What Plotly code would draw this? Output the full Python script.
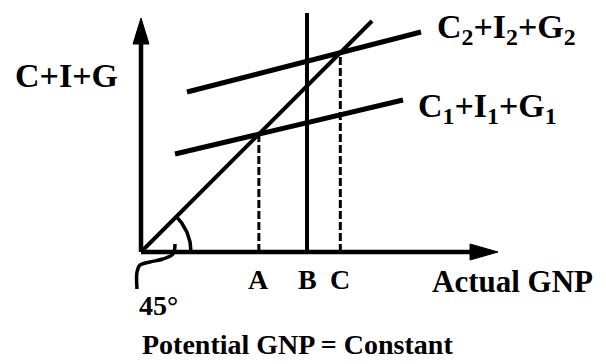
import numpy as np
import plotly.graph_objects as go

# ---- data (diagram units, origin at the axes corner) ----
axis_x_end = 357          # length of horizontal (Actual GNP) axis
axis_y_end = 234          # length of vertical (C+I+G) axis
line45_x = [0, 231]       # 45-degree line x-extent
ae1_x = [34, 262]         # C1+I1+G1 x-extent
ae1_y = [98, 152]
ae2_x = [46, 280]         # C2+I2+G2 x-extent
ae2_y = [160, 220]
potential_x = 166         # B: potential GNP (vertical line)
potential_top = 239
point_labels = ["A", "B", "C"]

FONT = "Liberation Serif"
BLACK = "#000000"

def intersect45(xs, ys):
    m = (ys[1] - ys[0]) / (xs[1] - xs[0])
    b = ys[0] - m * xs[0]
    return b / (1 - m)

xA = intersect45(ae1_x, ae1_y)
xC = intersect45(ae2_x, ae2_y)
label_x = [xA, potential_x, xC]

fig = go.Figure()

def line(xs, ys, width=4.5, dash=None):
    fig.add_trace(go.Scatter(x=xs, y=ys, mode="lines",
                             line=dict(color=BLACK, width=width, dash=dash),
                             hoverinfo="skip", showlegend=False))

# axes
line([0, 0], [0, axis_y_end - 20], width=4.5)
line([0, axis_x_end - 22], [0, 0], width=4.5)
# 45 degree line
line(line45_x, line45_x, width=4)
# aggregate expenditure lines
line(ae1_x, ae1_y, width=5)
line(ae2_x, ae2_y, width=5)
# potential GNP vertical
line([potential_x, potential_x], [0, potential_top], width=4)
# dashed drop lines
line([xA, xA], [0, xA], width=3, dash="8px,3px")
line([xC, xC], [0, xC], width=3, dash="8px,3px")

# arrowheads
fig.add_trace(go.Scatter(x=[-8, 0, 8, -8], y=[axis_y_end - 26, axis_y_end, axis_y_end - 26, axis_y_end - 26],
                         mode="lines", fill="toself", fillcolor=BLACK,
                         line=dict(color=BLACK, width=1), hoverinfo="skip", showlegend=False))
fig.add_trace(go.Scatter(x=[axis_x_end - 28, axis_x_end, axis_x_end - 28, axis_x_end - 28], y=[8, 0, -8, 8],
                         mode="lines", fill="toself", fillcolor=BLACK,
                         line=dict(color=BLACK, width=1), hoverinfo="skip", showlegend=False))

# 45 degree arc
t = np.linspace(0, np.pi / 4, 30)
line(list(50 * np.cos(t)), list(50 * np.sin(t)), width=3.5)
# squiggle pointer
sq_x = [34, 32, 22, 9, -1, -4, -4]
sq_y = [8, -2, -7, -10, -13, -20, -37]
fig.add_trace(go.Scatter(x=sq_x, y=sq_y, mode="lines",
                         line=dict(color=BLACK, width=3.5, shape="spline"),
                         hoverinfo="skip", showlegend=False))

def text(x, y, s, size, xanchor="center", yanchor="middle", bold=True):
    fig.add_annotation(x=x, y=y, text=(f"<b>{s}</b>" if bold else s), showarrow=False,
                       xanchor=xanchor, yanchor=yanchor,
                       font=dict(family=FONT, size=size, color=BLACK))

text(-75, 177, "C+I+G", 34)
text(294, 223, "C<sub>2</sub>+I<sub>2</sub>+G<sub>2</sub>", 34, xanchor="left")
text(275, 144, "C<sub>1</sub>+I<sub>1</sub>+G<sub>1</sub>", 34, xanchor="left")
for lx, lab in zip(label_x, point_labels):
    text(lx, -27, lab, 28)
text(371, -29, "Actual GNP", 31)
text(17, -53, "45°", 28)
text(156, -92, "Potential GNP = Constant", 28)

fig.update_layout(
    width=606, height=364,
    margin=dict(l=0, r=0, t=0, b=0),
    paper_bgcolor="white", plot_bgcolor="white",
    xaxis=dict(range=[-141, 465], visible=False, fixedrange=True),
    yaxis=dict(range=[-112, 252], visible=False, fixedrange=True),
)

fig.write_html("out.html", config={"displayModeBar": False},
               post_script="document.body.style.margin='0';")
